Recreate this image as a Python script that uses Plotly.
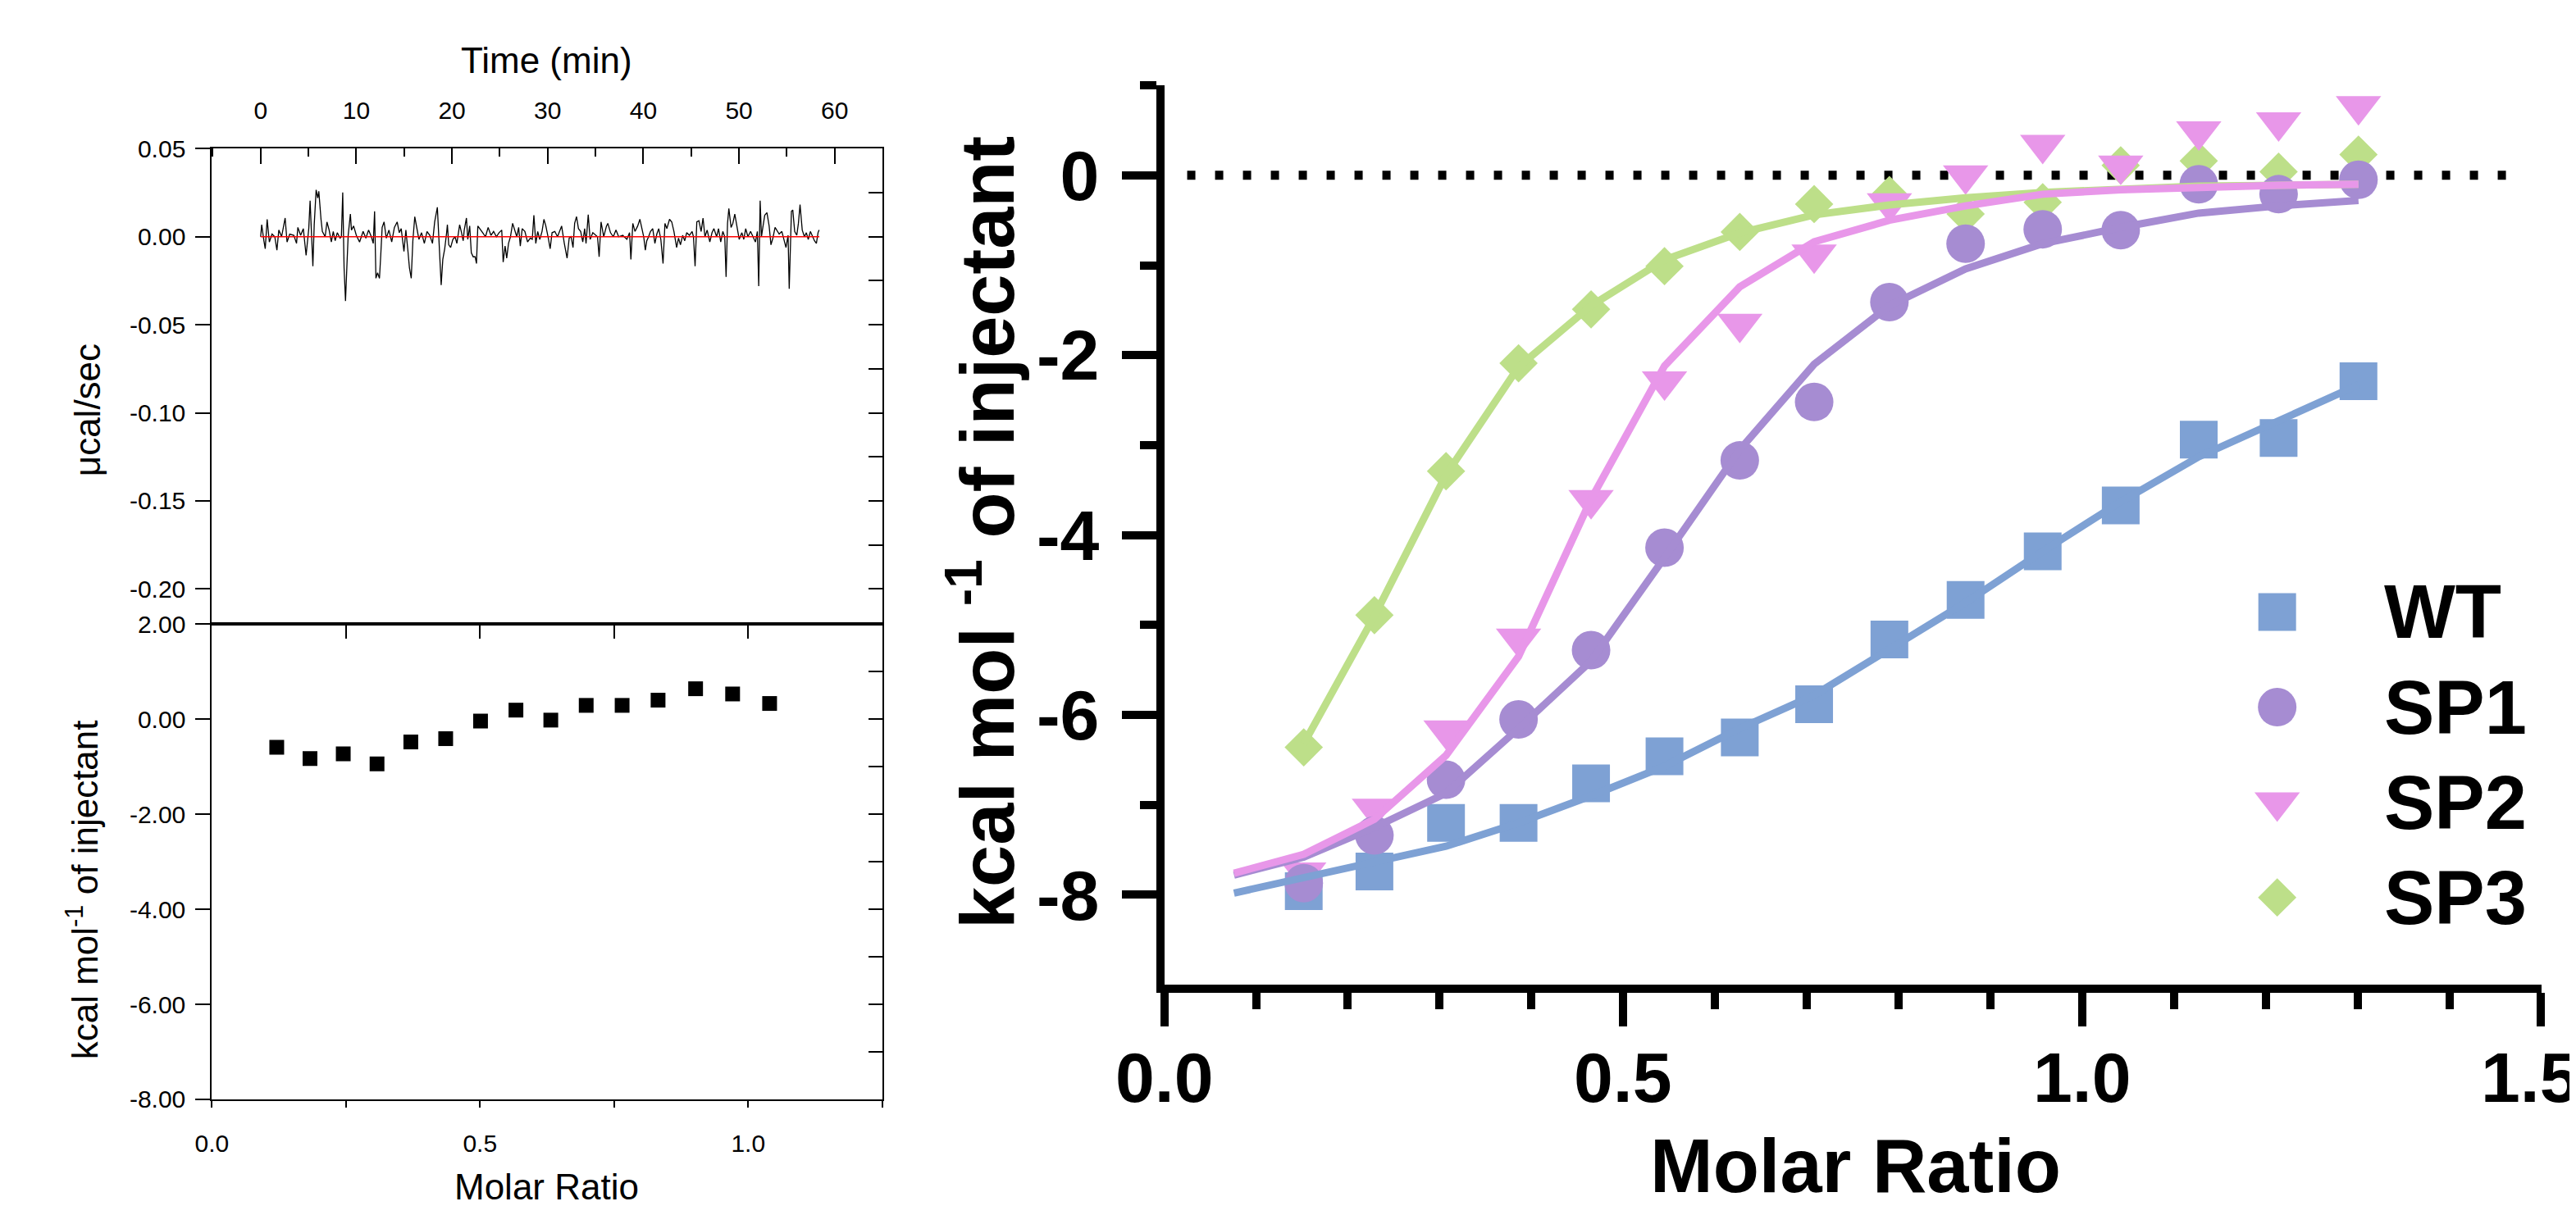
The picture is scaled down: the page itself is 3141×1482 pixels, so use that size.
import plotly.graph_objects as go

# raw thermogram
TIME = [0.00, 0.11, 0.34, 0.48, 0.68, 0.91, 1.19, 1.48, 1.70, 1.90, 2.19, 2.56, 2.76, 3.04, 3.47, 3.75, 3.89,
        4.18, 4.46, 4.75, 5.03, 5.17, 5.31, 5.46, 5.60, 5.80, 5.97, 6.08, 6.31, 6.45, 6.74, 6.93, 7.16, 7.39,
        7.59, 7.79, 8.01, 8.30, 8.44, 8.58, 8.72, 8.87, 9.01, 9.15, 9.38, 9.49, 9.72, 10.00, 10.34, 10.71,
        11.00, 11.28, 11.57, 11.77, 11.91, 12.05, 12.22, 12.42, 12.56, 12.70, 12.90, 13.13, 13.41, 13.70,
        13.98, 14.27, 14.49, 14.69, 14.98, 15.18, 15.40, 15.55, 15.74, 15.91, 16.11, 16.31, 16.54, 16.82,
        17.11, 17.39, 17.68, 17.96, 18.19, 18.47, 18.59, 18.87, 19.04, 19.24, 19.44,
        19.52, 19.66, 19.86, 20.09, 20.32, 20.51, 20.80, 21.00, 21.17, 21.28, 21.51, 21.65, 21.85, 22.02,
        22.22, 22.42, 22.56, 22.70, 22.93, 23.21, 23.50, 23.78, 24.07, 24.35, 24.64, 24.92, 25.20, 25.35,
        25.55, 25.72, 25.91, 26.11, 26.34, 26.57, 26.77, 26.97, 27.14, 27.34, 27.62, 27.90, 28.19, 28.39,
        28.56, 28.76, 28.96, 29.18, 29.41, 29.61, 29.81, 30.04, 30.26, 30.46, 30.75, 31.03, 31.23, 31.46,
        31.74, 32.03, 32.25, 32.45, 32.65, 32.82, 33.02, 33.22, 33.45, 33.67, 33.87, 34.01, 34.24, 34.44,
        34.72, 35.01, 35.21, 35.38, 35.58, 35.86, 36.15, 36.29, 36.57, 36.86, 37.14, 37.42, 37.85, 38.28,
        38.56, 38.70, 38.90, 39.13, 39.41, 39.64, 39.84, 40.04, 40.21,
        40.36, 40.55, 40.75, 40.98, 41.21, 41.41, 41.61, 41.83, 42.06, 42.26, 42.46, 42.74, 42.97, 43.20,
        43.48, 43.68, 43.88, 44.11, 44.33, 44.53, 44.82, 45.10, 45.24, 45.41, 45.59, 45.81, 46.04, 46.24,
        46.44, 46.67, 46.95, 47.18, 47.38, 47.66, 47.86, 48.09, 48.31, 48.51, 48.65, 48.80, 48.94, 49.17,
        49.36, 49.56, 49.79, 50.02, 50.30, 50.50, 50.70, 50.93, 51.21, 51.50, 51.72, 51.92, 52.06, 52.21,
        52.35, 52.49, 52.69, 52.92, 53.15, 53.34, 53.54, 53.77, 54.00, 54.20, 54.48, 54.68, 54.91, 55.13,
        55.25, 55.48, 55.62, 55.82, 56.04, 56.21, 56.38, 56.61, 56.84, 57.04, 57.24, 57.46, 57.69, 57.89,
        58.09, 58.26, 58.37]
SIGNAL = [0.0, 0.0068, -0.0023, -0.0068, 0.0099, -0.0030, 0.0015, 0.0, -0.0076, 0.0038, 0.0, 0.0106, -0.0030,
          0.0015, 0.0008, -0.0038, 0.0053, 0.0008, 0.0046, -0.0106, 0.0046, 0.0205, 0.0023, -0.0167, 0.0068,
          0.0266, 0.0220, 0.0258, 0.0099, 0.0030, 0.0, 0.0084, 0.0038, -0.0030, 0.0030, -0.0023, 0.0023,
          -0.0008, 0.0, 0.0251, -0.0175, -0.0365, -0.0175, 0.0008, 0.0129, 0.0038, 0.0061, 0.0008, -0.0030,
          0.0030, -0.0008, 0.0038, 0.0, -0.0038, 0.0144, -0.0236, -0.0205, -0.0236, -0.0099, 0.0053, 0.0084,
          -0.0008, 0.0038, -0.0030, 0.0053, 0.0084, 0.0023, 0.0046, -0.0084, 0.0038, -0.0084, -0.0175,
          -0.0236, -0.0023, 0.0114, 0.0046, -0.0015, 0.0023, -0.0038, 0.0030, 0.0008, -0.0038, 0.0084,
          0.0167, 0.0023, -0.0274, -0.0129, -0.0068, 0.0023,
          0.0068, -0.0046, -0.0061, -0.0015, 0.0, -0.0038, 0.0068, 0.0023, -0.0023, 0.0038, 0.0106, -0.0015,
          0.0061, -0.0091, -0.0114, -0.0114, -0.0152, 0.0061, 0.0046, 0.0023, 0.0, 0.0053, 0.0008, 0.0030,
          0.0, 0.0023, 0.0038, -0.0144, -0.0053, -0.0122, -0.0038, 0.0, 0.0076, 0.0038, 0.0, 0.0053, -0.0053,
          0.0046, 0.0030, -0.0030, -0.0008, -0.0015, 0.0122, -0.0038, 0.0030, -0.0015, 0.0030, 0.0099,
          0.0061, 0.0, -0.0068, 0.0023, 0.0030, 0.0, 0.0030, 0.0061, -0.0038, -0.0122, -0.0008, 0.0, -0.0061,
          0.0076, 0.0114, 0.0046, 0.0030, -0.0030, 0.0046, -0.0038, 0.0125, -0.0015, 0.0023, 0.0008, 0.0,
          -0.0114, 0.0084, 0.0, 0.0061, 0.0076, 0.0023, 0.0, 0.0038, 0.0, 0.0008, -0.0015, 0.0023, -0.0129,
          0.0076, 0.0030, 0.0061, 0.0099, 0.0046, 0.0, -0.0076,
          -0.0023, 0.0, 0.0030, 0.0046, -0.0038, 0.0015, 0.0046, -0.0015, -0.0152, 0.0076, 0.0046, 0.0099,
          0.0084, 0.0030, -0.0061, -0.0008, -0.0046, 0.0008, -0.0023, 0.0023, 0.0008, 0.0030, 0.0, -0.0167,
          0.0084, 0.0091, 0.0030, 0.0106, 0.0, 0.0038, -0.0030, 0.0023, 0.0046, 0.0, 0.0046, -0.0030, 0.0030,
          0.0, -0.0228, 0.0076, 0.0160, 0.0053, 0.0076, 0.0129, 0.0046, -0.0015, 0.0023, -0.0015, 0.0046,
          0.0, 0.0030, 0.0, -0.0030, 0.0030, -0.0281, 0.0205, 0.0, 0.0053, 0.0122, 0.0137, 0.0061, -0.0046,
          -0.0008, 0.0053, 0.0030, 0.0015, 0.0030, -0.0015, -0.0061, 0.0008, -0.0296, 0.0144, 0.0152, 0.0030,
          0.0008, 0.0076, 0.0182, 0.0038, 0.0, 0.0023, -0.0015, 0.0030, 0.0, -0.0023, -0.0038, 0.0023, 0.0038]
BASE_T = [0.0, 58.4]
BASE_Y = [0.0, 0.0]

# integrated heats, bottom-left panel
ITC_RATIO = [0.121, 0.183, 0.245, 0.308, 0.371, 0.436, 0.501, 0.567, 0.632, 0.698, 0.765, 0.832, 0.902, 0.971, 1.040]
ITC_HEAT = [-0.59, -0.83, -0.73, -0.94, -0.48, -0.41, -0.04, 0.19, -0.02, 0.29, 0.29, 0.40, 0.64, 0.53, 0.33]

# right panel: binding isotherms
MOLAR = [0.152, 0.229, 0.307, 0.386, 0.465, 0.545, 0.627, 0.708, 0.790, 0.873, 0.957, 1.042, 1.127, 1.214, 1.301]
WT = [-7.96, -7.74, -7.20, -7.20, -6.76, -6.46, -6.25, -5.88, -5.16, -4.72, -4.18, -3.67, -2.94, -2.92, -2.29]
SP1 = [-7.87, -7.34, -6.72, -6.05, -5.28, -4.14, -3.17, -2.52, -1.41, -0.76, -0.60, -0.61, -0.10, -0.21, -0.05]
SP2 = [-7.75, -7.04, -6.17, -5.15, -3.61, -2.29, -1.65, -0.88, -0.31, 0.00, 0.34, 0.11, 0.49, 0.59, 0.77]
SP3 = [-6.36, -4.89, -3.29, -2.09, -1.49, -1.01, -0.63, -0.32, -0.22, -0.43, -0.30, 0.11, 0.16, 0.04, 0.23]

FIT_X = [0.076] + MOLAR
WT_FIT = [-7.98, -7.81, -7.64, -7.46, -7.20, -6.90, -6.57, -6.15, -5.78, -5.27, -4.75, -4.18, -3.63, -3.13, -2.73, -2.33]
SP1_FIT = [-7.78, -7.58, -7.25, -6.87, -6.15, -5.40, -4.25, -3.05, -2.10, -1.45, -1.04, -0.76, -0.58, -0.42, -0.34, -0.28]
SP2_FIT = [-7.76, -7.55, -7.16, -6.45, -5.35, -3.60, -2.12, -1.24, -0.74, -0.50, -0.34, -0.21, -0.16, -0.13, -0.11, -0.10]
SP3_FIT_X = MOLAR
SP3_FIT = [-6.32, -4.90, -3.33, -2.13, -1.45, -0.94, -0.64, -0.44, -0.33, -0.25, -0.19, -0.15, -0.12, -0.11, -0.10]

SERIES = ["WT", "SP1", "SP2", "SP3"]
COLORS = {"WT": "#7EA1D4", "SP1": "#A68CD2", "SP2": "#E897E9", "SP3": "#BDDF89"}
SYMBOLS = {"WT": "square", "SP1": "circle", "SP2": "triangle-down", "SP3": "diamond"}
SIZES = {"WT": 46, "SP1": 47, "SP2": 48, "SP3": 36}

# tick labels
TIME_TICKS = [0, 10, 20, 30, 40, 50, 60]
RAW_TICKS = [0.05, 0.0, -0.05, -0.10, -0.15, -0.20]
RAW_LABELS = ["0.05", "0.00", "-0.05", "-0.10", "-0.15", "-0.20"]
HEAT_TICKS = [2, 0, -2, -4, -6, -8]
HEAT_LABELS = ["2.00", "0.00", "-2.00", "-4.00", "-6.00", "-8.00"]
RATIO_TICKS = [0, 0.25, 0.5, 0.75, 1.0, 1.25]
RATIO_LABELS = ["0.0", "", "0.5", "", "1.0", ""]
MR_TICKS = [0, 0.5, 1.0, 1.5]
MR_LABELS = ["0.0", "0.5", "1.0", "1.5"]
KCAL_TICKS = [0, -2, -4, -6, -8]
KCAL_LABELS = ["0", "-2", "-4", "-6", "-8"]
KCAL_MINOR = [1, -1, -3, -5, -7]

FONT = "Liberation Sans, Arial, sans-serif"
LEFT_X = [0.0735, 0.3356]
TOP_Y = [0.4912, 0.8914]
BOT_Y = [0.0911, 0.4912]

fig = go.Figure()

# left panels
fig.add_trace(go.Scatter(x=TIME, y=SIGNAL, mode="lines", line=dict(color="black", width=1.3),
                         xaxis="x2", yaxis="y2", showlegend=False))
fig.add_trace(go.Scatter(x=BASE_T, y=BASE_Y, mode="lines", line=dict(color="red", width=1.3),
                         xaxis="x2", yaxis="y2", showlegend=False))
fig.add_trace(go.Scatter(x=ITC_RATIO, y=ITC_HEAT, mode="markers",
                         marker=dict(symbol="square", size=18, color="black"),
                         xaxis="x", yaxis="y", showlegend=False))
# empty traces so the mirrored tick axes get drawn
fig.add_trace(go.Scatter(x=[None], y=[None], xaxis="x", yaxis="y3", showlegend=False))
fig.add_trace(go.Scatter(x=[None], y=[None], xaxis="x3", yaxis="y", showlegend=False))
fig.add_trace(go.Scatter(x=[None], y=[None], xaxis="x2", yaxis="y4", showlegend=False))

# right panel
fig.add_trace(go.Scatter(x=[0.025, 1.475], y=[0, 0], mode="lines",
                         line=dict(color="black", width=11, dash="10px,24px"),
                         xaxis="x5", yaxis="y5", showlegend=False))
points = {"WT": WT, "SP1": SP1, "SP2": SP2, "SP3": SP3}
for name in ["WT", "SP3", "SP2", "SP1"]:
    fig.add_trace(go.Scatter(x=MOLAR, y=points[name], mode="markers",
                             marker=dict(symbol=SYMBOLS[name], size=SIZES[name], color=COLORS[name],
                                         line=dict(width=0)),
                             xaxis="x5", yaxis="y5", showlegend=False))
fits = {"WT": (FIT_X, WT_FIT), "SP1": (FIT_X, SP1_FIT), "SP3": (SP3_FIT_X, SP3_FIT), "SP2": (FIT_X, SP2_FIT)}
for name in ["WT", "SP1", "SP3", "SP2"]:
    fx, fy = fits[name]
    fig.add_trace(go.Scatter(x=fx, y=fy, mode="lines", line=dict(color=COLORS[name], width=9),
                             xaxis="x5", yaxis="y5", showlegend=False))

# hand-made legend
for i, name in enumerate(SERIES):
    fig.add_trace(go.Scatter(x=[0.15], y=[i], mode="markers",
                             marker=dict(symbol=SYMBOLS[name], size=SIZES[name], color=COLORS[name],
                                         line=dict(width=0)),
                             xaxis="x6", yaxis="y6", showlegend=False))
    fig.add_annotation(x=0.444, y=i, xref="x6", yref="y6", text=name, showarrow=False,
                       xanchor="left", yanchor="middle",
                       font=dict(family=FONT, size=92, color="black", weight="bold"))

small = dict(family=FONT, size=30, color="black")
big = dict(family=FONT, size=86, color="black", weight="bold")
frame = dict(showline=True, linecolor="black", linewidth=2, mirror=True, showgrid=False, zeroline=False,
             tickcolor="black", tickwidth=2, tickfont=small)

fig.update_layout(
    width=3141, height=1482, autosize=False,
    margin=dict(l=0, r=0, t=0, b=0),
    paper_bgcolor="white", plot_bgcolor="rgba(0,0,0,0)",
    xaxis=dict(domain=LEFT_X, anchor="y", range=[0, 1.2505], tickmode="array", tickvals=RATIO_TICKS,
               ticktext=RATIO_LABELS, ticks="outside", ticklen=8, ticklabelstandoff=18, **frame),
    xaxis3=dict(overlaying="x", side="top", anchor="y", range=[0, 1.2505], tickmode="array",
                tickvals=[0.25, 0.5, 0.75, 1.0], ticks="inside", ticklen=18, tickwidth=2,
                tickcolor="black", showticklabels=False, showline=False, showgrid=False, zeroline=False),
    yaxis=dict(domain=BOT_Y, anchor="x", range=[-8, 2], tickmode="array", tickvals=HEAT_TICKS,
               ticktext=HEAT_LABELS, ticks="outside", ticklen=18, ticklabelstandoff=6, **frame),
    yaxis3=dict(overlaying="y", side="right", anchor="x", range=[-8, 2], dtick=1, tick0=0,
                ticks="inside", ticklen=17, tickwidth=2, tickcolor="black", showticklabels=False,
                showline=False, showgrid=False, zeroline=False),
    xaxis2=dict(domain=LEFT_X, anchor="y2", side="top", range=[-5.1, 65], tickmode="array",
                tickvals=TIME_TICKS, ticks="inside", ticklen=19, ticklabelstandoff=22,
                minor=dict(dtick=5, tick0=0, ticks="inside", ticklen=10, tickwidth=2, tickcolor="black"),
                **frame),
    yaxis2=dict(domain=TOP_Y, anchor="x2", range=[-0.22, 0.05], tickmode="array", tickvals=RAW_TICKS,
                ticktext=RAW_LABELS, ticks="outside", ticklen=18, ticklabelstandoff=6, **frame),
    yaxis4=dict(overlaying="y2", side="right", anchor="x2", range=[-0.22, 0.05], dtick=0.025, tick0=0,
                ticks="inside", ticklen=17, tickwidth=2, tickcolor="black", showticklabels=False,
                showline=False, showgrid=False, zeroline=False),
    xaxis5=dict(domain=[0.4457, 0.9841], anchor="y5", range=[0, 1.5008], tickmode="array", tickvals=MR_TICKS,
                showticklabels=False, ticks="outside", ticklen=41, tickwidth=10, tickcolor="black",
                minor=dict(tickmode="linear", dtick=0.1, tick0=0, ticks="outside", ticklen=20,
                           tickwidth=10, tickcolor="black"),
                showline=True, linewidth=10, linecolor="black", showgrid=False, zeroline=False),
    yaxis5=dict(domain=[0.1876, 0.9447], anchor="x5", range=[-9, 1], tickmode="array", tickvals=KCAL_TICKS,
                ticktext=KCAL_LABELS, ticks="outside", ticklen=42, tickwidth=10, tickcolor="black",
                minor=dict(tickmode="array", tickvals=KCAL_MINOR, ticks="outside", ticklen=20,
                           tickwidth=10, tickcolor="black"),
                showline=True, linewidth=10, linecolor="black", showgrid=False, zeroline=False,
                tickfont=big, ticklabelstandoff=10),
    xaxis6=dict(domain=[0.8596, 1.0], anchor="y6", range=[0, 1], visible=False),
    yaxis6=dict(domain=[0.224, 0.5412], anchor="x6", range=[3.463, -0.497], visible=False),
)

# x tick labels of the right panel; the last one is pinned to the page edge (it is clipped there)
for val, lab in zip(MR_TICKS, MR_LABELS):
    last = val == MR_TICKS[-1]
    fig.add_annotation(text=lab, x=0.9995 if last else val, xref="paper" if last else "x5",
                       y=0.110, yref="paper", showarrow=False,
                       xanchor="right" if last else "center", yanchor="middle", font=big)

titles = [
    dict(text="Time (min)", x=0.2044, y=0.966, size=44, angle=0, bold=False),
    dict(text="Molar Ratio", x=0.2044, y=0.0175, size=44, angle=0, bold=False),
    dict(text="\u03bccal/sec", x=0.0247, y=0.6714, size=44, angle=-90, bold=False),
    dict(text="kcal mol<sup>-1</sup> of injectant", x=0.0229, y=0.2679, size=44, angle=-90, bold=False),
    dict(text="kcal mol <sup>-1</sup> of injectant", x=0.3744, y=0.568, size=92, angle=-90, bold=True),
    dict(text="Molar Ratio", x=0.716, y=0.0355, size=92, angle=0, bold=True),
]
for t in titles:
    fig.add_annotation(text=t["text"], x=t["x"], y=t["y"], xref="paper", yref="paper", showarrow=False,
                       xanchor="center", yanchor="middle", textangle=t["angle"],
                       font=dict(family=FONT, size=t["size"], color="black",
                                 weight="bold" if t["bold"] else "normal"))

fig.write_html("out.html")
